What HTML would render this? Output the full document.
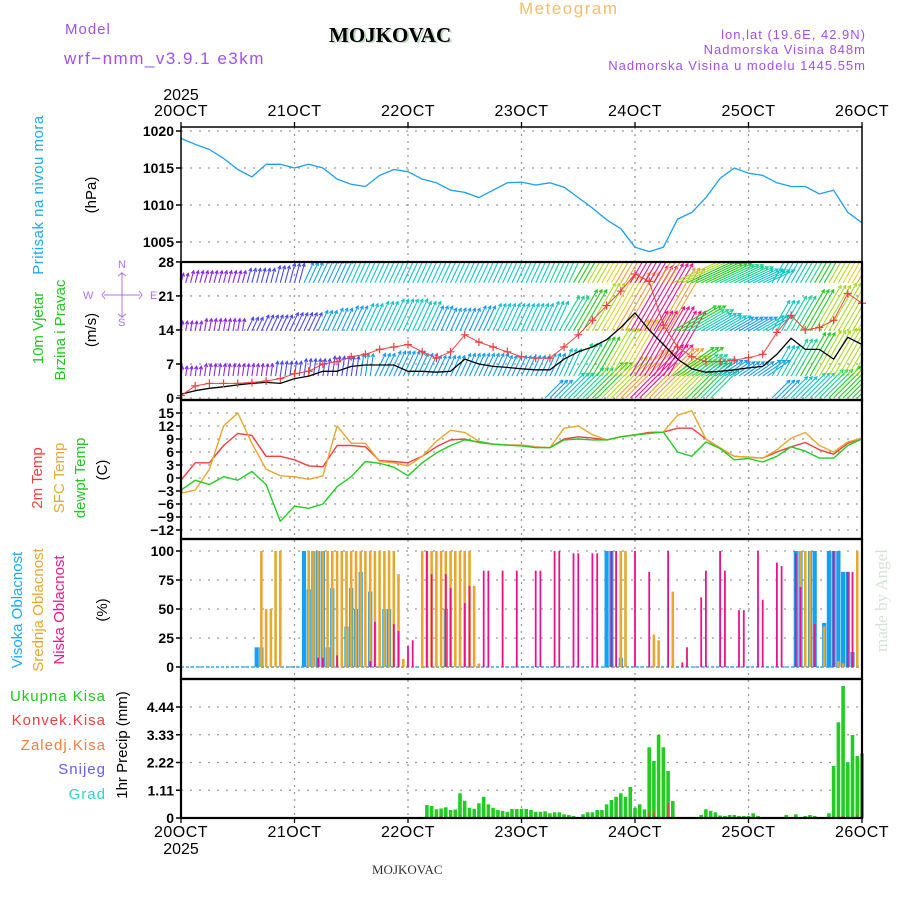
<!DOCTYPE html>
<html><head><meta charset="utf-8"><style>
html,body{margin:0;padding:0;background:#fff;}
svg{display:block;font-family:"Liberation Sans",sans-serif;}
</style></head><body>
<svg id="c" width="900" height="900" viewBox="0 0 900 900" xmlns="http://www.w3.org/2000/svg">
<defs><clipPath id="wclip"><rect x="181" y="262" width="681" height="138"/></clipPath></defs>
<g>
<text x="65" y="34" font-size="15" fill="#a050f0" letter-spacing="1">Model</text>
<text x="64" y="64" font-size="17" fill="#a050f0" letter-spacing="1.5">wrf−nmm_v3.9.1 e3km</text>
<text x="331" y="43" font-size="21" font-weight="bold" font-family="Liberation Serif,serif" fill="#bcd8bc">MOJKOVAC</text>
<text x="329" y="42" font-size="21" font-weight="bold" font-family="Liberation Serif,serif" fill="#000">MOJKOVAC</text>
<text x="519" y="14" font-size="17" fill="#f0c070" letter-spacing="1.5">Meteogram</text>
<text x="866" y="39" font-size="13" fill="#a050f0" text-anchor="end" letter-spacing="1">lon,lat (19.6E, 42.9N)</text>
<text x="866" y="54" font-size="13" fill="#a050f0" text-anchor="end" letter-spacing="1">Nadmorska Visina 848m</text>
<text x="866" y="70" font-size="13" fill="#a050f0" text-anchor="end" letter-spacing="1">Nadmorska Visina u modelu 1445.55m</text>
</g>
<g id="grid"></g>
<g id="marks"></g>
<g id="axes"></g>
<g font-size="15">
<text transform="translate(43,195) rotate(-90)" text-anchor="middle" fill="#20a8f8" letter-spacing="0.5">Pritisak na nivou mora</text>
<text transform="translate(96,195) rotate(-90)" text-anchor="middle" fill="#000">(hPa)</text>
<text transform="translate(43,328) rotate(-90)" text-anchor="middle" fill="#20c820">10m Vjetar</text>
<text transform="translate(65,330) rotate(-90)" text-anchor="middle" fill="#20c820">Brzina i Pravac</text>
<text transform="translate(96,330) rotate(-90)" text-anchor="middle" fill="#000">(m/s)</text>
<text transform="translate(42,478) rotate(-90)" text-anchor="middle" fill="#f04040">2m Temp</text>
<text transform="translate(64,478) rotate(-90)" text-anchor="middle" fill="#e8a830">SFC Temp</text>
<text transform="translate(85,478) rotate(-90)" text-anchor="middle" fill="#20c820">dewpt Temp</text>
<text transform="translate(107,470) rotate(-90)" text-anchor="middle" fill="#000">(C)</text>
<text transform="translate(22,610) rotate(-90)" text-anchor="middle" fill="#20a8f8">Visoka Oblacnost</text>
<text transform="translate(43,610) rotate(-90)" text-anchor="middle" fill="#e8a830">Srednja Oblacnost</text>
<text transform="translate(64,610) rotate(-90)" text-anchor="middle" fill="#f01890">Niska Oblacnost</text>
<text transform="translate(107,610) rotate(-90)" text-anchor="middle" fill="#000">(%)</text>
<text x="106" y="701" text-anchor="end" fill="#20c820" letter-spacing="1">Ukupna Kisa</text>
<text x="106" y="725" text-anchor="end" fill="#f04040" letter-spacing="1">Konvek.Kisa</text>
<text x="106" y="750" text-anchor="end" fill="#f08040" letter-spacing="1">Zaledj.Kisa</text>
<text x="106" y="774" text-anchor="end" fill="#6060f0" letter-spacing="1">Snijeg</text>
<text x="106" y="799" text-anchor="end" fill="#30d0d0" letter-spacing="1">Grad</text>
<text transform="translate(127,745) rotate(-90)" text-anchor="middle" fill="#000">1hr Precip (mm)</text>
</g>
<g fill="#b070f0" stroke="#b070f0" font-size="11">
<text x="118" y="268" stroke="none">N</text>
<text x="118" y="326" stroke="none">S</text>
<text x="83" y="299" stroke="none">W</text>
<text x="150" y="299" stroke="none">E</text>
<path d="M122 272V318M104 295H140M105 291l-3 4 3 4M139 291l3 4-3 4M118 276l4-3 4 3M118 314l4 3 4-3" fill="none" stroke-width="1"/>
</g>
<text x="372" y="874" font-size="13" font-family="Liberation Serif,serif" fill="#333">MOJKOVAC</text>
<text transform="translate(887,652) rotate(-90)" font-size="17" font-family="Liberation Serif,serif" fill="#d4e4d4">made by Angel</text>
</svg>
<script>
// ---- data (3-hourly unless noted) ----
const dayLabels = ["20OCT","21OCT","22OCT","23OCT","24OCT","25OCT","26OCT"];
const pressure = [1019,1018.2,1017.5,1016.3,1014.8,1013.8,1015.5,1015.5,1015,1015.5,1015,1013.5,1012.8,1012.5,1014,1014.8,1014.5,1013.5,1013,1012,1011.7,1011,1012,1013,1013.1,1012.7,1013,1012.4,1011,1009.6,1008,1006.8,1004.3,1003.7,1004.3,1008.1,1009,1011,1013.6,1015,1014.3,1014,1013,1012.5,1012.5,1011.5,1012,1009,1007.6];
const pressTicks = [1005,1010,1015,1020];
const windSpeed = [0.8,1.5,2,2.3,2.7,3,3.2,3,4,4.5,5.5,5.5,6.5,6.8,6.8,6.8,5.5,5.5,5.3,5.5,8,7,6.5,6.3,6,5.8,5.8,8,9.5,10.5,12,14.5,17.5,14,11,8,6,5.3,5.5,5.8,6.2,6.5,9,12.3,10,10,8,12.5,11];
const windGust = [0.5,2.5,3,3,3,3.2,3.5,4,5,5.5,7,7.5,8.5,9,10,10.5,11,9.5,8.2,9.5,13,11.5,10.5,9.5,8.5,8.2,8.2,10.5,13,16,19,22,25.5,24,15,10.5,8.5,7.5,7.5,7.8,8.3,9,13.5,17,14,14.5,16,21.5,19.5];
const rowASpd = [4,5,5,5,5,6,6,7,8,9,10,10,12,13,13,14,14,14,13,13,13,13,13,13,13,14,15,17,20,23,26,28,30,31,28,22,20,18,17,15,13,12,12,13,15,18,21,24,27];
const rowADir = [15,15,15,15,15,15,15,15,15,25,25,25,25,25,25,25,25,25,25,25,25,25,25,25,25,25,25,25,30,30,30,30,30,30,30,65,65,65,65,65,65,65,30,30,30,30,30,30,30];
const rowBSpd = [4,4,5,5,5,6,7,7,8,8,9,10,11,12,13,14,14,13,11,10,10,11,12,12,12,12,13,16,19,22,25,27,30,31,29,20,17,14,12,11,11,12,14,16,19,21,22,23,24];
const rowBDir = [10,10,10,10,10,25,25,25,25,25,25,25,25,25,25,25,25,25,25,25,25,25,25,25,25,25,25,30,30,30,30,30,30,30,30,60,60,60,60,60,60,60,30,30,30,30,30,30,30];
const rowCSpd = [4,4,5,5,5,5,5,6,6,7,7,8,8,9,10,11,11,10,9,9,10,10,10,9,9,9,10,12,15,18,22,26,30,32,30,20,15,12,11,10,10,11,14,17,20,21,22,21,23];
const rowCDir = [8,8,8,8,8,8,8,8,8,8,8,8,8,8,25,25,25,25,25,25,25,25,25,25,25,25,25,25,30,30,30,30,30,30,30,55,55,55,55,55,55,55,30,30,30,30,30,30,30];
const rowDSpd = [0,0,0,0,0,0,0,0,0,0,0,0,0,0,0,0,0,0,0,0,0,0,0,0,0,0,10,14,17,20,23,27,30,28,24,22,20,16,0,0,0,0,10,12,14,16,18,20,18];
const rowDDir = 45;
const windTicks = [0,7,14,21,28];
const temp2m = [-0.5,3.5,3.5,7.5,10.3,9.8,5,5,4.2,2.8,2.6,7.5,7.5,7.2,4,3.8,3.5,5,7.2,8.8,9,8.2,7.8,7.6,7.6,7.2,7,9,9.5,9.2,8.8,9.5,10,10.5,10.6,11.5,11.5,9,6.8,5,4.8,4.6,6,7.2,8.2,6.5,5.5,8,9.2];
const tempSfc = [-3.5,-2.8,2,12,15,8,2,0.5,0.3,-0.3,0.5,12,8,8,3.8,3.5,2.8,5,8.5,11,10.5,8.5,7.8,7.6,7.6,7.2,7,11.5,12,10,8.8,9.5,10,10.3,10.6,14.5,15.5,9,7,5,4.8,4.6,6.5,9.2,10.5,7.5,6,8.3,9.2];
const tempDew = [-2.8,-0.5,-1.5,0.3,-0.5,1.5,-1.5,-10,-6.5,-7,-6,-2,0.3,3.8,3.4,2.5,0.5,3.5,5.8,7.5,8.8,8.3,7.8,7.6,7.4,7,7,8.8,9,8.8,8.8,9.5,9.9,10.3,10.6,6,5,8.3,6.8,4.2,4.5,3.7,5,7.2,6.2,4.6,4.6,7.5,9];
const tempTicks = [-12,-9,-6,-3,0,3,6,9,12,15];
// cloud cover (hour, %)
const highHours = [16,17,26,27,28,29,30,31,32,35,36,37,38,40,43,44,56,90,91,93,130,131,133,134,136,137,138,139,140,141,142];
const highVals  = [17,17,100,67,100,100,100,17,68,35,68,50,82,65,50,50,50,100,100,8,100,100,100,100,38,100,100,100,82,82,13];
const midHours = [17,18,19,20,21,27,28,29,30,31,32,33,34,35,36,37,38,39,40,41,42,43,44,45,46,47,48,51,52,53,54,55,56,57,58,59,60,61,62,63,93,94,100,101,104,131,132,133,136,139,140,143];
const midVals  = [100,50,50,100,100,100,100,100,100,100,100,100,100,100,100,100,100,100,100,100,100,100,100,100,80,7,2,100,100,100,100,100,100,100,100,100,100,100,70,3,100,100,28,23,65,100,100,100,35,5,3,100];
const lowHours = [29,30,33,40,41,45,46,48,49,52,53,56,57,60,61,64,65,68,71,75,76,79,80,83,84,87,88,91,92,96,99,103,106,107,110,111,114,115,118,119,122,123,126,127,130,131,134,138,141,142];
const lowVals  = [8,8,10,5,39,37,31,18,23,100,80,80,68,55,70,83,83,83,83,83,83,100,100,98,98,98,98,100,100,100,82,100,4,17,60,83,100,83,49,49,100,58,90,87,98,69,37,100,82,82];
const cloudTicks = [0,25,50,75,100];
// precipitation (hour, mm)
const precipHours = [52,53,54,55,56,57,58,59,60,61,62,63,64,65,66,67,68,69,70,71,72,73,74,75,76,77,78,79,80,81,82,83,85,86,87,88,89,90,91,92,93,94,95,96,97,98,99,100,101,102,103,104,110,111,112,113,114,115,116,117,118,119,120,121,122,128,130,132,133,134,137,138,139,140,141,142,143,144];
const precipTotal = [0.52,0.48,0.35,0.38,0.43,0.32,0.34,0.99,0.69,0.41,0.37,0.59,0.85,0.55,0.41,0.32,0.29,0.25,0.36,0.36,0.37,0.36,0.32,0.25,0.25,0.27,0.19,0.23,0.23,0.15,0.12,0.08,0.15,0.23,0.23,0.32,0.32,0.55,0.72,0.85,0.99,0.85,1.24,0.41,0.55,0.35,2.83,2.28,3.32,2.83,1.88,0.68,0.12,0.35,0.29,0.23,0.1,0.08,0.12,0.12,0.08,0.08,0.08,0.19,0.08,0.12,0.15,0.08,0.12,0.08,0.19,2.08,3.83,5.28,2.23,3.32,2.48,2.59];
const convHours = [55,99,100,103,140,143,144];
const convVals  = [0.1,0.25,0.25,0.6,0.1,0.15,1.2];
const precipTicks = [0,1.11,2.22,3.33,4.44];

// ---- axes ----
const X0=181, X1=862, HOURS=144;
const xh = h => X0 + h*(X1-X0)/HOURS;
const x3 = i => xh(i*3);
const yP = p => 131 + (1020-p)*7.4;
const yW = v => 398 - v*4.86;
const yT = t => 478 - t*4.333;
const yC = c => 667 - c*1.16;
const yR = p => 818 - p*25;
const panels = [[127,262],[262,400],[400,539],[539,679],[679,818]];

const NS="http://www.w3.org/2000/svg";
function el(tag, attrs, parent){const e=document.createElementNS(NS,tag);for(const k in attrs)e.setAttribute(k,attrs[k]);parent.appendChild(e);return e;}
const grid=document.getElementById('grid'), marks=document.getElementById('marks'), axes=document.getElementById('axes');

for(let d=1; d<dayLabels.length-1; d++){
  const g=el('line',{x1:xh(d*24),x2:xh(d*24),y1:127,y2:818,stroke:'#999','stroke-width':1.3,'stroke-dasharray':'2 5'},grid);
  
  
}
function hgrid(ticks, yf, cls){
  ticks.forEach(t=>{
    const g=el('line',{x1:X0,x2:X1,y1:yf(t),y2:yf(t),stroke:'#999','stroke-width':1.3,'stroke-dasharray':'2 7'},grid);
    
    
    const tl=el('text',{x:174,y:yf(t)+5,'font-size':14,'text-anchor':'end',fill:'#000','font-weight':'bold'},axes);
    tl.textContent=(t<0?'−'+(-t):String(t));
    
    
    const tk=el('line',{x1:X0-5,x2:X0,y1:yf(t),y2:yf(t),stroke:'#000','stroke-width':1.5},axes);
    
    
  });
}
hgrid(pressTicks,yP,'pressure');
hgrid(windTicks,yW,'wind');
hgrid(tempTicks,yT,'temp');
hgrid(cloudTicks,yC,'cloud');
hgrid(precipTicks,yR,'precip');

function line(arr, xf, yf, color, name, w){
  const pts=arr.map((v,i)=>xf(i).toFixed(1)+','+yf(v).toFixed(1)).join(' ');
  const p=el('polyline',{points:pts,fill:'none',stroke:color,'stroke-width':w||1.3,'stroke-linejoin':'round'},marks);
  
  
  return p;
}
line(pressure,x3,yP,'#1aa0f0','pressure-line');

function spdColor(s){
  if(s<6) return '#8a2be2'; if(s<9) return '#4a4af5'; if(s<12) return '#1a9cf5';
  if(s<15) return '#12c4c8'; if(s<18) return '#16d48c'; if(s<21) return '#22cc22';
  if(s<24) return '#a8dc20'; if(s<27) return '#e6d028'; if(s<30) return '#f0a030'; return '#ee1290';
}
const wg=el('g',{'clip-path':'url(#wclip)'},marks);


function arrowRow(spd, dir, baseV, name){
  spd.forEach((s,i)=>{
    if(s<=0) return;
    const d = Array.isArray(dir)?dir[i]:dir;
    const a=d*Math.PI/180, L=s*2.5;
    for(let k=-1;k<=1;k++){
      const x0=xh(i*3+k), y0=yW(baseV);
      if(x0<X0-2||x0>X1+2) continue;
      const x1=x0+Math.sin(a)*L, y1=y0-Math.cos(a)*L;
      const ha1=a+Math.PI-0.5, ha2=a+Math.PI+0.5;
      const dpath=`M${x0.toFixed(1)} ${y0.toFixed(1)}L${x1.toFixed(1)} ${y1.toFixed(1)}M${(x1+Math.sin(ha1)*3.5).toFixed(1)} ${(y1-Math.cos(ha1)*3.5).toFixed(1)}L${x1.toFixed(1)} ${y1.toFixed(1)}L${(x1+Math.sin(ha2)*3.5).toFixed(1)} ${(y1-Math.cos(ha2)*3.5).toFixed(1)}`;
      const p=el('path',{d:dpath,fill:'none',stroke:spdColor(s),'stroke-width':1.1},wg);
      
      
    }
  });
}
arrowRow(rowDSpd,rowDDir,0,'wind-arrow-row-0');
arrowRow(rowCSpd,rowCDir,4.5,'wind-arrow-row-5');
arrowRow(rowBSpd,rowBDir,13.8,'wind-arrow-row-14');
arrowRow(rowASpd,rowADir,23.7,'wind-arrow-row-24');
line(windSpeed,x3,yW,'#000','wind-speed-line',1.3);
line(windGust,x3,yW,'#f04040','wind-gust-line',1);
windGust.forEach((v,i)=>{
  const x=x3(i), y=yW(v);
  const p=el('path',{d:`M${x-4} ${y}H${x+4}M${x} ${y-4}V${y+4}`,stroke:'#f04040','stroke-width':1.2},marks);
  
  
});

line(temp2m,x3,yT,'#f04040','temp-2m-line',1.4);
line(tempSfc,x3,yT,'#e8a830','temp-sfc-line',1.4);
line(tempDew,x3,yT,'#22cc22','dewpoint-line',1.4);

const cb=el('line',{x1:X0,x2:X1,y1:yC(0),y2:yC(0),stroke:'#30a8f0','stroke-width':1.5,'stroke-dasharray':'3 2'},marks);


function bars(hours, vals, yf, color, w, name){
  hours.forEach((h,i)=>{
    const y=yf(vals[i]), y0=yf(0);
    const r=el('rect',{x:(xh(h)-w/2).toFixed(1),y:y.toFixed(1),width:w,height:(y0-y).toFixed(1),fill:color},marks);
    
    
  });
}
bars(highHours,highVals,yC,'#18a0f0',4.2,'high-cloud-bar');
bars(midHours,midVals,yC,'#e8a830',2.6,'mid-cloud-bar');
bars(lowHours,lowVals,yC,'#ee1288',1.8,'low-cloud-bar');

bars(precipHours,precipTotal,yR,'#22cc22',3.6,'precip-total-bar');
bars(convHours,convVals,yR,'#f04040',1.6,'precip-convective-bar');

panels.forEach(([a,b],i)=>{
  const f=el('rect',{x:X0,y:a,width:X1-X0,height:b-a,fill:'none',stroke:'#000','stroke-width':i===0?1.5:2.2},axes);
  
  
});
dayLabels.forEach((d,i)=>{
  const x=xh(i*24);
  const t=el('text',{x:x,y:116,'font-size':16,'text-anchor':'middle',fill:'#000','letter-spacing':'0.5'},axes);
  t.textContent=d;
  
  
  const b=el('text',{x:x,y:837,'font-size':16,'text-anchor':'middle',fill:'#000','letter-spacing':'0.5'},axes);
  b.textContent=d;
  
  
  const tk=el('line',{x1:x,x2:x,y1:122,y2:127,stroke:'#000','stroke-width':1.3},axes);
  
  
  const bk=el('line',{x1:x,x2:x,y1:818,y2:823,stroke:'#000','stroke-width':1.3},axes);
  
  
});
const y1=el('text',{x:181,y:100,'font-size':16,'text-anchor':'middle',fill:'#000'},axes);
y1.textContent='2025';


const y2=el('text',{x:181,y:854,'font-size':16,'text-anchor':'middle',fill:'#000'},axes);
y2.textContent='2025';


</script>
</body></html>
